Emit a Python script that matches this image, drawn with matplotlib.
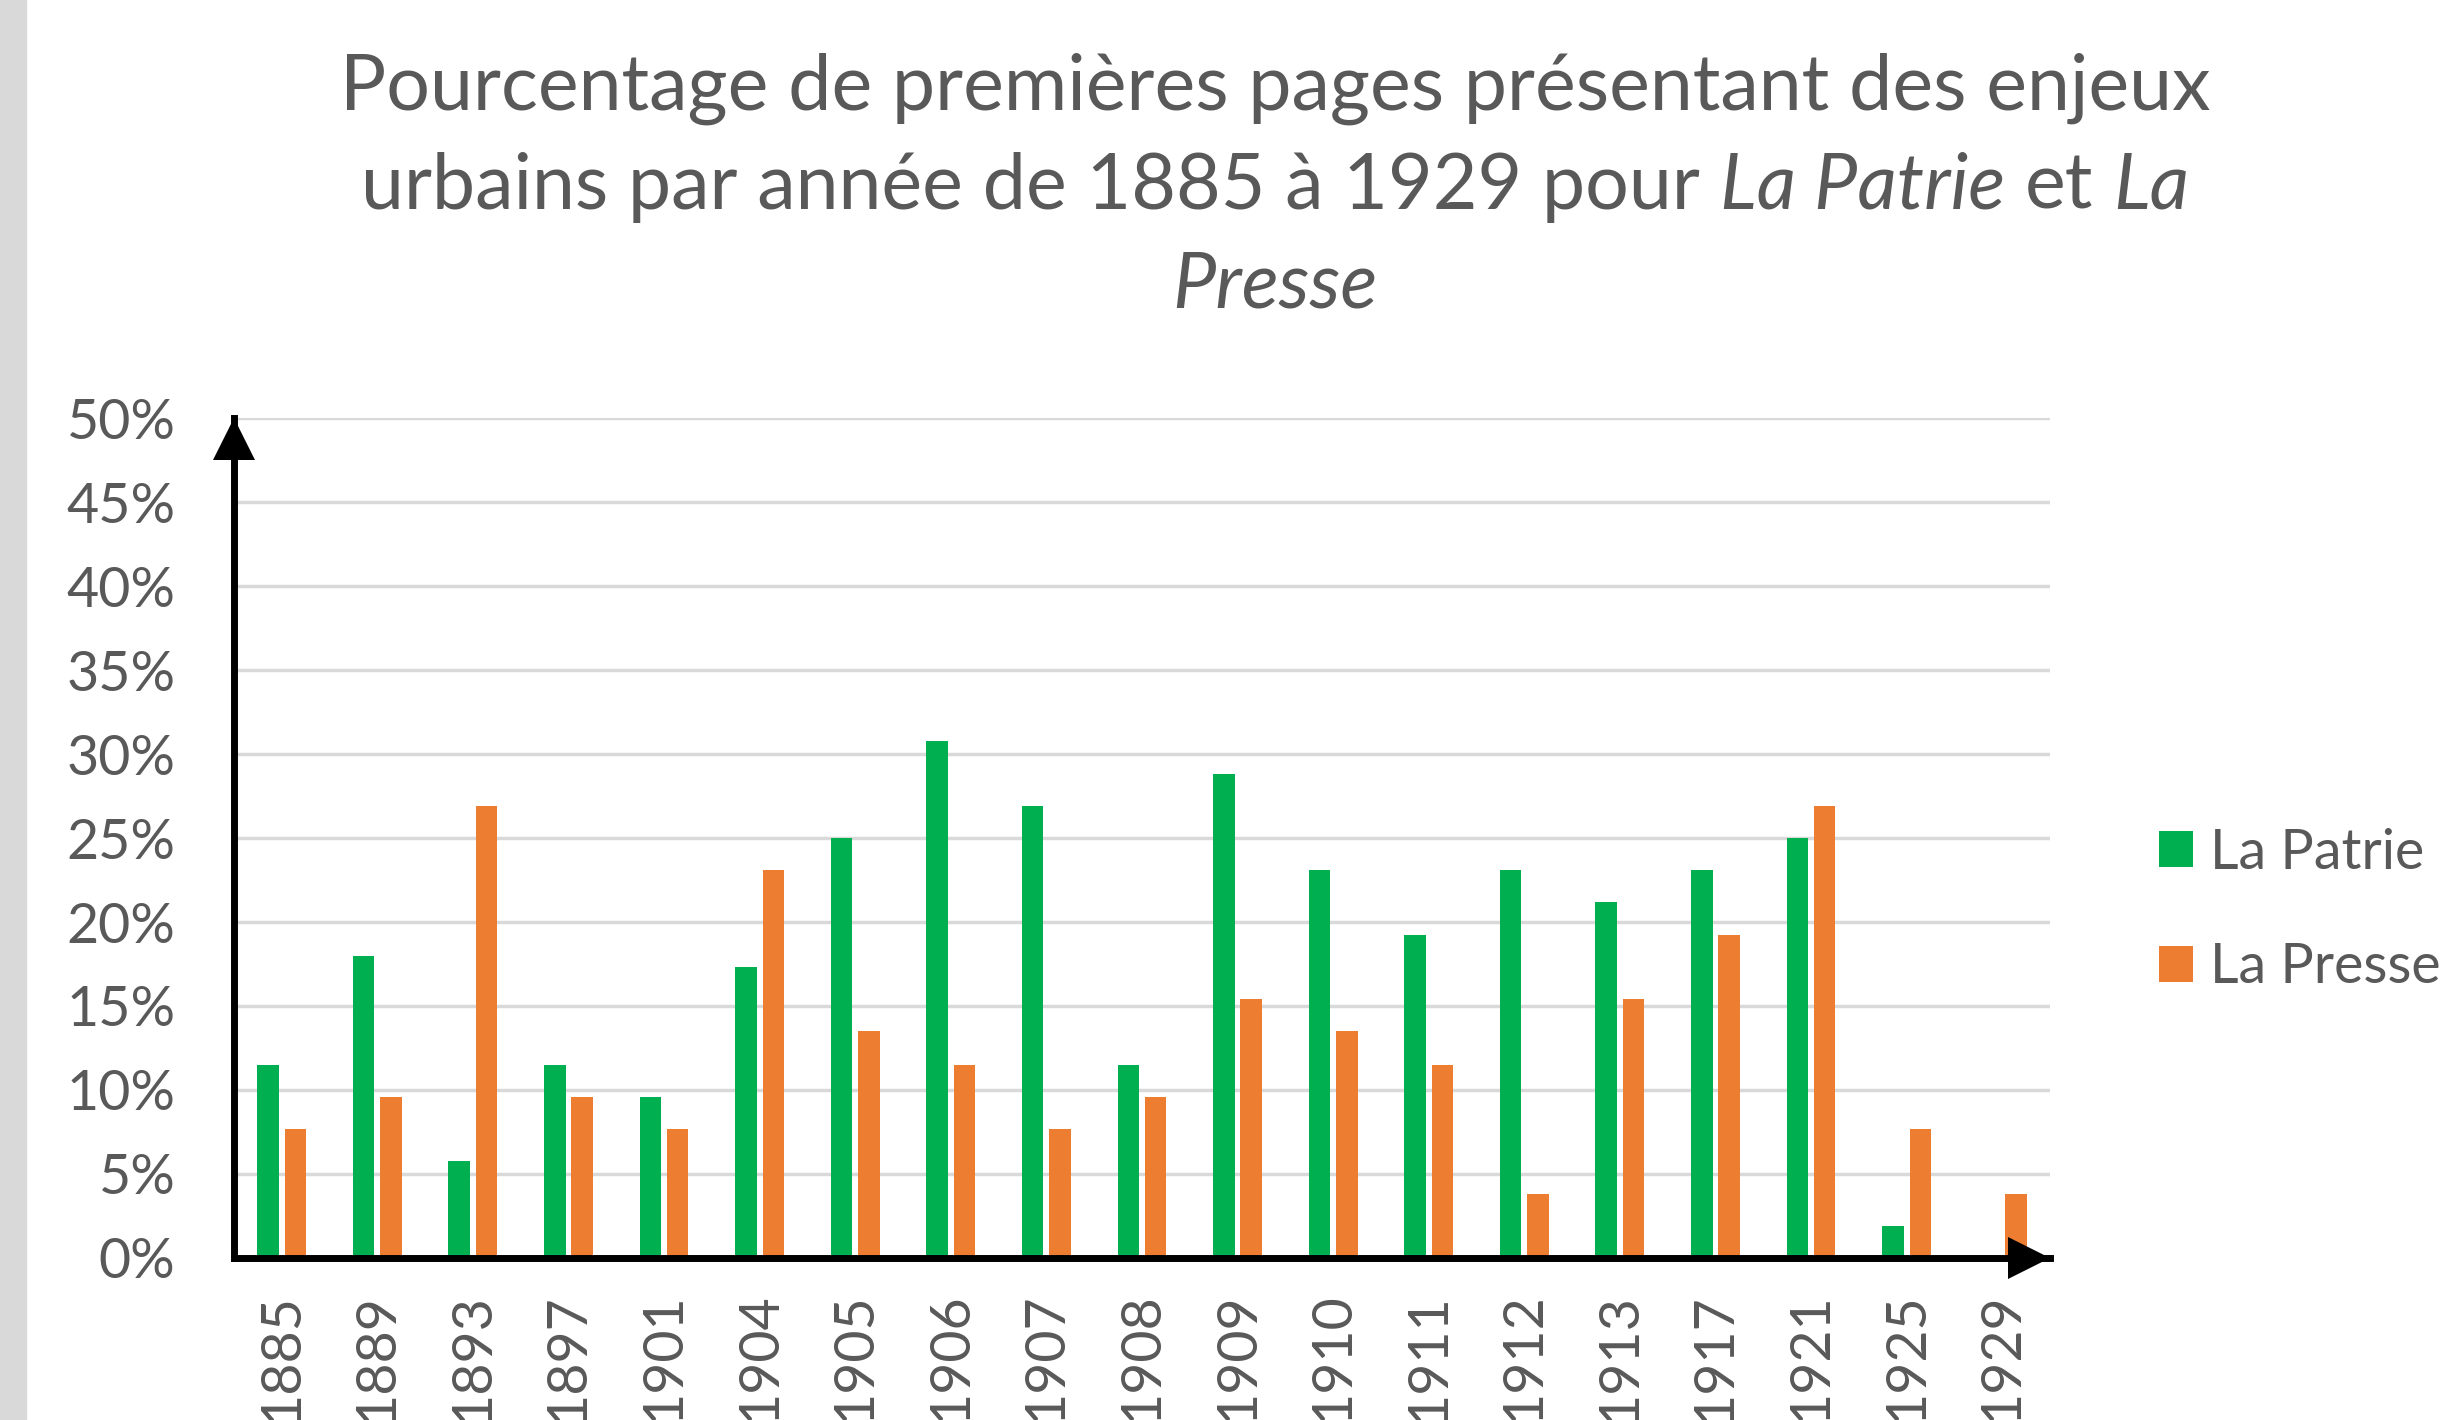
import matplotlib
matplotlib.use("Agg")
import matplotlib.pyplot as plt
import numpy as np
from matplotlib.patches import Rectangle
from matplotlib.transforms import ScaledTranslation


# Données (en %)
years = ["1885", "1889", "1893", "1897", "1901", "1904", "1905", "1906", "1907", "1908",
         "1909", "1910", "1911", "1912", "1913", "1917", "1921", "1925", "1929"]
la_patrie = [11.5, 18.0, 5.8, 11.5, 9.6, 17.3, 25.0, 30.8, 26.9, 11.5,
             28.8, 23.1, 19.2, 23.1, 21.2, 23.1, 25.0, 1.9, 0.0]
la_presse = [7.7, 9.6, 26.9, 9.6, 7.7, 23.1, 13.5, 11.5, 7.7, 9.6,
             15.4, 13.5, 11.5, 3.8, 15.4, 19.2, 26.9, 7.7, 3.8]
y_ticks = [0, 5, 10, 15, 20, 25, 30, 35, 40, 45, 50]
series_names = ["La Patrie", "La Presse"]

plt.rcParams["font.family"] = ["Lato", "DejaVu Sans"]

TEXT = "#595959"
GREEN = "#00B050"
ORANGE = "#ED7D31"
GRID = "#D9D9D9"
W, H = 2444, 1420

fig = plt.figure(figsize=(W / 100, H / 100), dpi=100)

# bande grise à gauche
fig.patches.append(Rectangle((0, 0), 26 / W, 1, transform=fig.transFigure,
                             color=GRID, zorder=0))

ax = fig.add_axes([0.0957, 0.1141, 0.8388 - 0.0957, 0.7056 - 0.1141])

x = np.arange(len(years))
bars1 = ax.bar(x - 0.143, la_patrie, width=0.225, color=GREEN, zorder=3)
bars2 = ax.bar(x + 0.143, la_presse, width=0.225, color=ORANGE, zorder=3)

ax.set_xlim(-0.5, len(years) - 0.5)
ax.set_ylim(0, 50)
ax.set_yticks(y_ticks)
ax.set_yticklabels([f"{v}%" for v in y_ticks])
ax.set_xticks(x)
ax.set_xticklabels(years, rotation=90)
ax.tick_params(axis="y", length=0, pad=42, labelsize=40, labelcolor=TEXT)
ax.tick_params(axis="x", length=0, pad=25, labelsize=40, labelcolor=TEXT)

ax.yaxis.grid(True, color=GRID, lw=2.5)
ax.set_axisbelow(True)

for side in ["top", "right"]:
    ax.spines[side].set_visible(False)
for side in ["left", "bottom"]:
    ax.spines[side].set_linewidth(5)
    ax.spines[side].set_color("black")
    ax.spines[side].set_zorder(4)

# flèches au bout des axes
ms = 30
ax.plot([0], [1], marker="^", ms=ms, mew=0, color="black", clip_on=False, zorder=5,
        transform=ax.transAxes + ScaledTranslation(0, -ms / 2 / 72, fig.dpi_scale_trans))
ax.plot([1], [0], marker=">", ms=ms, mew=0, color="black", clip_on=False, zorder=5,
        transform=ax.transAxes + ScaledTranslation(-ms / 2 / 72, 0, fig.dpi_scale_trans))

fig.legend([bars1, bars2], series_names, loc="center left",
           bbox_to_anchor=(0.8834, 0.3588), frameon=False, fontsize=40,
           handlelength=0.61, handleheight=0.61, handletextpad=0.3,
           labelspacing=1.15, borderpad=0, borderaxespad=0, labelcolor=TEXT)


# =========================
# Titre (avec parties en italique)
# =========================

TITLE_SIZE = 55.5
renderer = fig.canvas.get_renderer()


def text_width(s, style):
    t = fig.text(0, 0, s, fontsize=TITLE_SIZE, style=style)
    w = t.get_window_extent(renderer).width
    t.remove()
    return w


space = text_width("x x", "normal") - text_width("xx", "normal")


def title_line(pieces, y, cx=0.5217):
    widths = [text_width(s, st) for s, st in pieces]
    total = sum(widths) + space * (len(pieces) - 1)
    xpos = cx * W - total / 2
    for (s, st), w in zip(pieces, widths):
        fig.text(xpos / W, y, s, fontsize=TITLE_SIZE, style=st, color=TEXT,
                 ha="left", va="baseline")
        xpos += w + space


title_line([("Pourcentage de premières pages présentant des enjeux", "normal")], 0.923)
title_line([("urbains par année de 1885 à 1929 pour", "normal"),
            ("La Patrie", "italic"),
            ("et", "normal"),
            ("La", "italic")], 0.853)
title_line([("Presse", "italic")], 0.7834)

fig.savefig("out.png", dpi=100)
